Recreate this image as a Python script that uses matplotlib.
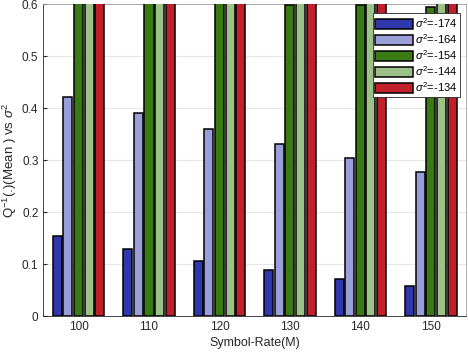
import numpy as np
import matplotlib.pyplot as plt

plt.rcParams['font.family'] = ['Liberation Sans', 'DejaVu Sans']
plt.rcParams['mathtext.fontset'] = 'custom'
plt.rcParams['mathtext.rm'] = 'Liberation Sans'
plt.rcParams['mathtext.it'] = 'Liberation Sans:italic'

rates = ['100', '110', '120', '130', '140', '150']
labels = [r'$\sigma^2$=-174', r'$\sigma^2$=-164', r'$\sigma^2$=-154',
          r'$\sigma^2$=-144', r'$\sigma^2$=-134']
s174 = [0.154, 0.129, 0.106, 0.088, 0.071, 0.058]
s164 = [0.421, 0.390, 0.360, 0.331, 0.304, 0.277]
s154 = [0.62, 0.61, 0.605, 0.599, 0.598, 0.595]
s144 = [0.70, 0.70, 0.70, 0.70, 0.70, 0.70]
s134 = [0.80, 0.80, 0.80, 0.80, 0.80, 0.80]
colors = ['#2f37ad', '#9a9fd9', '#3a7a12', '#9dc288', '#c1202a']

series = [s174, s164, s154, s144, s134]

fig = plt.figure(figsize=(4.68, 3.52), dpi=100)
ax = fig.add_axes([0.0925, 0.102, 0.9035, 0.8866])

x = np.arange(len(rates))
slot = 0.15
width = 0.128
for i, (vals, c, lab) in enumerate(zip(series, colors, labels)):
    ax.bar(x + (i - 2) * slot, vals, width, color=c, edgecolor='black',
           linewidth=1.1, label=lab, zorder=3)

ax.set_xlim(-0.5, 5.5)
ax.set_ylim(0, 0.6)
ax.set_xticks(x)
ax.set_xticklabels(rates)
ax.set_yticks(np.arange(0, 0.61, 0.1))
ax.set_yticklabels(['0', '0.1', '0.2', '0.3', '0.4', '0.5', '0.6'])
ax.tick_params(direction='in', labelsize=8.5, colors='#262626', length=3)
ax.yaxis.grid(True, color='#e6e6e6', linewidth=0.8, zorder=0)
for s in ax.spines.values():
    s.set_color('#262626')
    s.set_linewidth(0.6)
ax.spines['top'].set_color('#a0a0a0')
ax.spines['right'].set_color('#a0a0a0')

ax.set_xlabel('Symbol-Rate(M)', fontsize=9, color='#262626', labelpad=3)
ax.set_ylabel(r'Q$^{-1}$(.)(Mean ) vs $\sigma^2$', fontsize=9.5,
              color='#262626', labelpad=2)

leg = ax.legend(loc='upper right', fontsize=8, frameon=True, fancybox=False,
                edgecolor='#262626', framealpha=1, borderpad=0.25,
                handlelength=3.4, handleheight=0.95, handletextpad=0.15,
                labelspacing=0.2, borderaxespad=0,
                bbox_to_anchor=(0.985, 0.97))
leg.get_frame().set_linewidth(0.6)

plt.savefig('out.png', dpi=100)
